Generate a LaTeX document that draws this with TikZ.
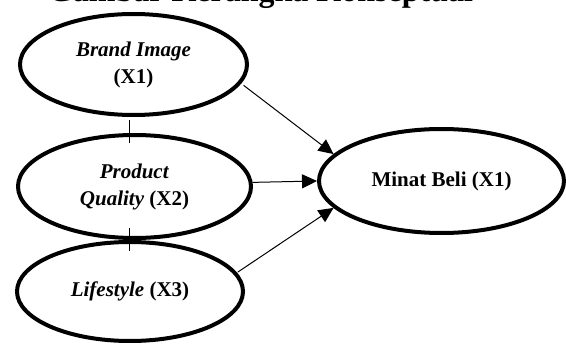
\documentclass[tikz,border=0pt]{standalone}
\usepackage{fontspec}
\setmainfont{Liberation Serif}
\usetikzlibrary{shapes.geometric,arrows.meta}

\tikzset{
  var/.style={draw, ellipse, line width=4pt, inner sep=0pt, align=center,
    font=\fontsize{21}{27}\selectfont\bfseries},
  arr/.style={line width=1pt, -{Triangle[length=15pt,width=14pt]}},
  link/.style={line width=1pt}
}

\begin{document}
\begin{tikzpicture}[x=1pt,y=-1pt]
\clip (0,0) rectangle (566,345);
\node[anchor=base, font=\fontsize{32}{38}\selectfont\bfseries] (title) at (260.5,1.5) {Gambar Kerangka Konseptual};

\node[var, minimum width=227pt, minimum height=101pt] (bi) at (133.5,64.5) {\textit{Brand Image}\\(X1)};
\node[var, minimum width=233pt, minimum height=103pt] (pq) at (134.5,186.5) {\textit{Product}\\\textit{Quality} (X2)};
\node[var, minimum width=226pt, minimum height=99pt] (ls) at (130,291.5) {\textit{Lifestyle} (X3)};
\node[var, minimum width=245pt, minimum height=104pt] (mb) at (441.5,181) {Minat Beli (X1)};

\draw[arr, shorten <=3pt] (bi.-10) -- (mb.166);
\draw[arr] (pq.2) -- (mb.west);
\draw[arr, shorten <=1pt] (ls.10) -- (mb.194);

\draw[link] ([xshift=-4.5pt,yshift=-3pt]bi.south) -- ([xshift=-5.5pt,yshift=-10pt]pq.north);
\draw[link] ([xshift=-5.5pt,yshift=12pt]pq.south) -- ([xshift=-1pt,yshift=-11pt]ls.north);
\end{tikzpicture}
\end{document}
